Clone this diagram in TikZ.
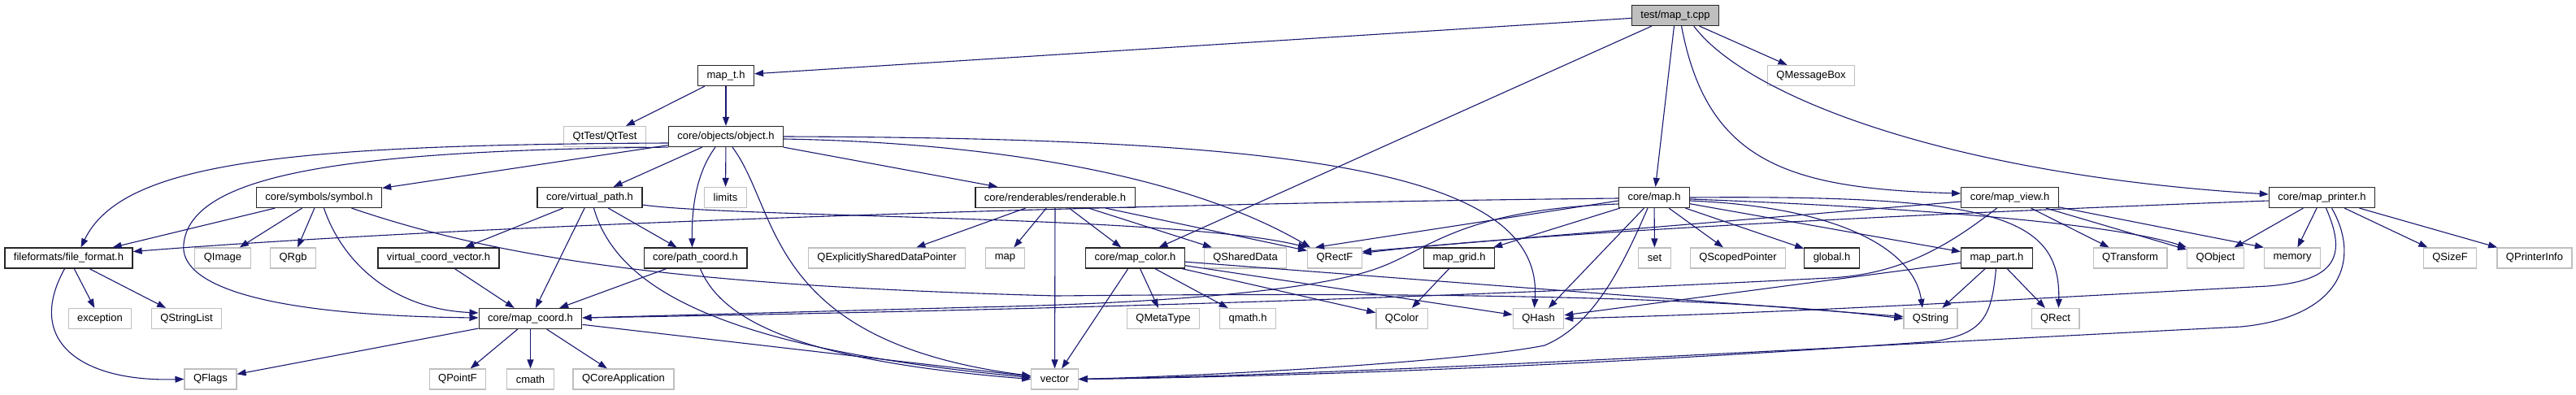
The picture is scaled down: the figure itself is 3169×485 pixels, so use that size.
\documentclass[tikz,border=0pt]{standalone}
\usepackage{fontspec}
\setmainfont{Liberation Sans}
\usepackage{tikz}
\usetikzlibrary{arrows.meta}
\definecolor{edgeblue}{HTML}{191970}
\definecolor{boxgray}{HTML}{BFBFBF}
\definecolor{rootfill}{HTML}{BFBFBF}

\begin{document}
\begin{tikzpicture}[x=1pt, y=-1pt, >={Triangle[length=11pt,width=8pt]},
  every node/.style={font=\fontsize{13}{15}\selectfont, rectangle, minimum height=25pt, inner xsep=11pt, inner ysep=0pt},
  hdrbox/.style={draw=black!85, line width=1.2pt, fill=white},
  sysbox/.style={draw=boxgray, line width=1.2pt, fill=white},
  rootbox/.style={draw=black!85, line width=1.2pt, fill=rootfill},
  dep/.style={->, line width=1.1pt, color=edgeblue}]
\path[use as bounding box, fill=white] (0,0) rectangle (3169,485);

\node[rootbox] (root) at (2061,19) {test/map\_t.cpp};
\node[hdrbox] (mapth) at (893,93) {map\_t.h};
\node[sysbox] (qmsgbox) at (2228,93) {QMessageBox};
\node[sysbox] (qtest) at (744,168) {QtTest/QtTest};
\node[hdrbox] (objh) at (893,168) {core/objects/object.h};

\node[hdrbox] (symh) at (392.5,243) {core/symbols/symbol.h};
\node[hdrbox] (vpath) at (725.5,243) {core/virtual\_path.h};
\node[sysbox] (limits) at (892.5,243) {limits};
\node[hdrbox] (rendh) at (1298,243) {core/renderables/renderable.h};
\node[hdrbox] (maph) at (2035,243) {core/map.h};
\node[hdrbox] (mview) at (2472.5,243) {core/map\_view.h};
\node[hdrbox] (mprint) at (2856.5,243) {core/map\_printer.h};

\node[hdrbox] (ffmt) at (84.5,317.5) {fileformats/file\_format.h};
\node[sysbox] (qimage) at (274,317.5) {QImage};
\node[sysbox] (qrgb) at (360.5,317.5) {QRgb};
\node[hdrbox] (vcv) at (539.5,317.5) {virtual\_coord\_vector.h};
\node[hdrbox] (pcoord) at (855.5,317.5) {core/path\_coord.h};
\node[sysbox] (qesdp) at (1091,317.5) {QExplicitlySharedDataPointer};
\node[sysbox] (stdmap) at (1236.5,317.5) {map};
\node[hdrbox] (mcolor) at (1396.5,317.5) {core/map\_color.h};
\node[sysbox] (qsdata) at (1532,317.5) {QSharedData};
\node[sysbox] (qrectf) at (1642,317.5) {QRectF};
\node[hdrbox] (mgrid) at (1795,317.5) {map\_grid.h};
\node[sysbox] (stdset) at (2035.5,317.5) {set};
\node[sysbox] (qscoped) at (2138,317.5) {QScopedPointer};
\node[hdrbox] (globalh) at (2253.5,317.5) {global.h};
\node[hdrbox] (mpart) at (2456.5,317.5) {map\_part.h};
\node[sysbox] (qtransform) at (2620.5,317.5) {QTransform};
\node[sysbox] (qobject) at (2725.5,317.5) {QObject};
\node[sysbox] (memory) at (2820,317.5) {memory};
\node[sysbox] (qsizef) at (3014,317.5) {QSizeF};
\node[sysbox] (qprinfo) at (3118,317.5) {QPrinterInfo};

\node[sysbox] (exception) at (123,392) {exception};
\node[sysbox] (qstrlist) at (229.5,392) {QStringList};
\node[hdrbox] (mcoord) at (652.5,392) {core/map\_coord.h};
\node[sysbox] (qmetatype) at (1431,392) {QMetaType};
\node[sysbox] (qmath) at (1535,392) {qmath.h};
\node[sysbox] (qcolor) at (1724.5,392) {QColor};
\node[sysbox] (qhash) at (1892.5,392) {QHash};
\node[sysbox] (qstring) at (2375,392) {QString};
\node[sysbox] (qrect) at (2528.5,392) {QRect};

\node[sysbox] (qflags) at (259,466.5) {QFlags};
\node[sysbox] (qpointf) at (563,466.5) {QPointF};
\node[sysbox] (cmath) at (652.5,466.5) {cmath};
\node[sysbox] (qcoreapp) at (767,466.5) {QCoreApplication};
\node[sysbox] (vector) at (1297.5,466.5) {vector};

\draw[dep] (root)--(mapth);
\draw[dep] (root)--(qmsgbox);
\draw[dep] (root)--(maph);
\draw[dep] (root)--(mcolor);
\draw[dep] (root.300) .. controls (2100,200) and (2200,232) .. ([yshift=5pt]mview.west);
\draw[dep] (root.330) .. controls (2150,120) and (2400,215) .. ([yshift=4pt]mprint.west);

\draw[dep] (mapth)--(qtest);
\draw[dep] (mapth)--(objh);

\draw[dep] (objh)--(symh);
\draw[dep] (objh)--(vpath);
\draw[dep] (objh)--(limits);
\draw[dep] (objh)--(rendh);
\draw[dep] ([yshift=-8pt]objh.west) .. controls (350,178) and (150,200) .. ([xshift=15pt]ffmt.north);
\draw[dep] (objh.south west) .. controls (420,185) and (235,215) .. (226,300) .. controls (220,350) and (320,388) .. ([yshift=1pt]mcoord.west);
\draw[dep] ([xshift=-13pt]objh.south) .. controls (855,215) and (851,260) .. ([xshift=-4pt]pcoord.north);
\draw[dep] ([xshift=8pt]objh.south) .. controls (960,260) and (940,420) .. ([yshift=4pt]vector.west);
\draw[dep] ([yshift=-3pt]objh.east) .. controls (1200,175) and (1450,210) .. ([xshift=4pt]qrectf.north west);
\draw[dep] (objh.east) .. controls (1600,170) and (1900,210) .. ([xshift=-5pt]qhash.north);

\draw[dep] (symh)--(ffmt);
\draw[dep] (symh)--(qimage);
\draw[dep] (symh)--(qrgb);
\draw[dep] ([xshift=6pt]symh.south) .. controls (420,320) and (480,380) .. ([yshift=7pt]mcoord.west);
\draw[dep] ([xshift=40pt]symh.south) .. controls (620,320) and (850,352) .. (1300,364) .. controls (1700,360) and (2100,362) .. (qstring.west);

\draw[dep] (vpath)--(vcv);
\draw[dep] (vpath)--(mcoord);
\draw[dep] (vpath)--(pcoord);
\draw[dep] ([xshift=5pt]vpath.south) .. controls (760,360) and (900,430) .. ([yshift=2pt]vector.west);
\draw[dep] ([yshift=-9pt]vpath.east) .. controls (900,268) and (1450,265) .. (qrectf.north west);

\draw[dep] (rendh)--(qesdp);
\draw[dep] (rendh)--(stdmap);
\draw[dep] (rendh)--(vector);
\draw[dep] (rendh)--(mcolor);
\draw[dep] (rendh)--(qsdata);
\draw[dep] (rendh)--([yshift=-4pt]qrectf.north west);

\draw[dep] (mcolor)--(vector);
\draw[dep] (mcolor)--(qmetatype);
\draw[dep] (mcolor)--(qmath);
\draw[dep] (mcolor)--(qcolor);
\draw[dep] (mcolor)--(qhash);
\draw[dep] (mcolor)--(qstring);

\draw[dep] (mgrid)--(qcolor);
\draw[dep] (pcoord)--(mcoord);
\draw[dep] ([xshift=6pt]pcoord.south) .. controls (890,400) and (1000,445) .. (vector.west);
\draw[dep] (vcv)--(mcoord);

\draw[dep] (mcoord)--(qflags);
\draw[dep] (mcoord)--(qpointf);
\draw[dep] (mcoord)--(cmath);
\draw[dep] (mcoord)--(qcoreapp);
\draw[dep] (mcoord)--(vector);

\draw[dep] (ffmt)--(exception);
\draw[dep] (ffmt)--(qstrlist);
\draw[dep] ([xshift=-5pt]ffmt.south) .. controls (30,420) and (100,470) .. (qflags.west);

\draw[dep] ([yshift=-1pt]maph.west) .. controls (1400,250) and (600,275) .. ([yshift=8pt]ffmt.east);
\draw[dep] ([yshift=-4pt]maph.west)--([xshift=10pt]qrectf.north west);
\draw[dep] ([yshift=-8pt]maph.west) .. controls (1800,258) and (1760,305) .. (1700,328) .. controls (1620,360) and (1400,374) .. (1200,378)--([yshift=1pt]mcoord.east);
\draw[dep] (maph)--(mgrid);
\draw[dep] (maph)--(qhash);
\draw[dep] ([xshift=-8pt]maph.south) .. controls (1995,330) and (1960,400) .. (1900,425) .. controls (1800,445) and (1500,462) .. (vector.east);
\draw[dep] (maph)--(stdset);
\draw[dep] (maph)--(qscoped);
\draw[dep] (maph)--(globalh);
\draw[dep] (maph)--(mpart);
\draw[dep] ([yshift=-4pt]maph.east) .. controls (2270,255) and (2355,310) .. ([xshift=-10pt]qstring.north);
\draw[dep] (maph.east) .. controls (2450,240) and (2535,265) .. ([xshift=4pt]qrect.north);
\draw[dep] ([yshift=-2pt]maph.east) .. controls (2350,255) and (2600,275) .. (qobject.north west);

\draw[dep] (mview)--([yshift=8pt]qrectf.east);
\draw[dep] ([xshift=-16pt]mview.south) .. controls (2400,300) and (2340,338) .. (2250,342) .. controls (2000,355) and (1500,378) .. ([yshift=1pt]mcoord.east);
\draw[dep] (mview)--(qtransform);
\draw[dep] (mview)--(qobject);
\draw[dep] (mview)--(memory.north west);

\draw[dep] ([yshift=-4pt]mprint.west) .. controls (2300,265) and (1850,290) .. ([yshift=6pt]qrectf.east);
\draw[dep] (mprint)--(qobject);
\draw[dep] (mprint)--(memory);
\draw[dep] ([xshift=5pt]mprint.south) .. controls (2885,310) and (2880,345) .. (2790,352) .. controls (2450,370) and (2200,385) .. (qhash.east);
\draw[dep] ([xshift=12pt]mprint.south) .. controls (2905,320) and (2880,390) .. (2757,402) .. controls (2300,425) and (1700,460) .. (vector.east);
\draw[dep] (mprint)--(qsizef);
\draw[dep] (mprint)--(qprinfo);

\draw[dep] (mpart)--(qstring);
\draw[dep] (mpart)--(qrect);
\draw[dep] (mpart)--(qhash);
\draw[dep] ([xshift=-1pt]mpart.south) .. controls (2450,390) and (2440,410) .. (2380,420) .. controls (2100,440) and (1700,462) .. (vector.east);
\end{tikzpicture}
\end{document}
